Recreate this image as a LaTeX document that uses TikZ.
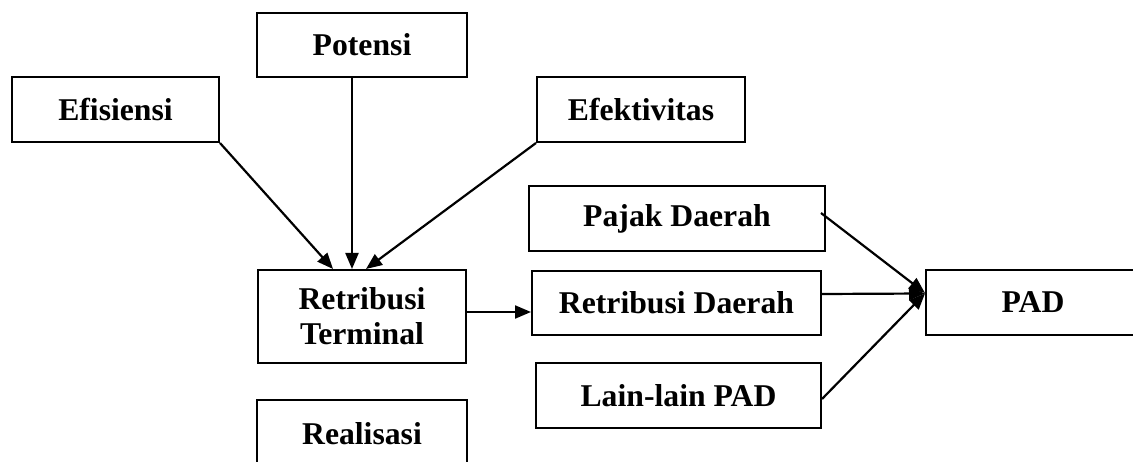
\documentclass[tikz,border=0pt]{standalone}
\usepackage{fontspec}
\setmainfont{Liberation Serif}
\usetikzlibrary{arrows.meta,calc}
\begin{document}
\begin{tikzpicture}[x=1pt,y=-1pt,
  box/.style={draw=black,line width=2pt,rectangle,inner sep=0pt,align=center,
    font=\fontsize{31.7}{35}\selectfont\bfseries},
  arr/.style={line width=2.2pt,-{Triangle[length=16pt,width=13pt]}}]
\useasboundingbox (0,0) rectangle (1133,462);
\node[box,minimum width=207pt,minimum height=65pt] (eff) at (115.5,109.5) {Efisiensi};
\node[box,minimum width=210pt,minimum height=64pt] (pot) at (362,45) {Potensi};
\node[box,minimum width=208pt,minimum height=65pt] (efk) at (641,109.5) {Efektivitas};
\node[box,minimum width=296pt,minimum height=65pt] (pd) at (677,218.5) {Pajak Daerah};
\node[box,minimum width=289pt,minimum height=64pt] (rd) at (676.5,303) {Retribusi Daerah};
\node[box,minimum width=285pt,minimum height=65pt] (ll) at (678.5,395.5) {Lain-lain PAD};
\node[box,minimum width=214pt,minimum height=65pt] (pad) at (1033,302.5) {PAD};
\node[box,minimum width=208pt,minimum height=93pt] (rt) at (362,316.5) {Retribusi\\Terminal};
\node[box,minimum width=210pt,minimum height=76pt,anchor=north] (real) at (362,399) {\raisebox{9pt}{Realisasi}};
\draw[arr] (eff.south east) -- ([xshift=-29pt]rt.north);
\draw[arr] ([xshift=-10pt]pot.south) -- ([xshift=-10pt]rt.north);
\draw[arr] (efk.south west) -- ([xshift=4pt]rt.north);
\draw[arr] ([yshift=4.5pt]rt.east) -- ([yshift=4.5pt]rt.east -| rd.west);
\draw[arr] ([xshift=-5pt,yshift=5.5pt]pd.east) -- ([yshift=9.5pt]pad.west);
\draw[arr] ([yshift=9pt]rd.east) -- ([yshift=9pt]pad.west);
\draw[arr] ([yshift=-3.5pt]ll.east) -- ([yshift=9pt]pad.west);
\end{tikzpicture}
\end{document}
